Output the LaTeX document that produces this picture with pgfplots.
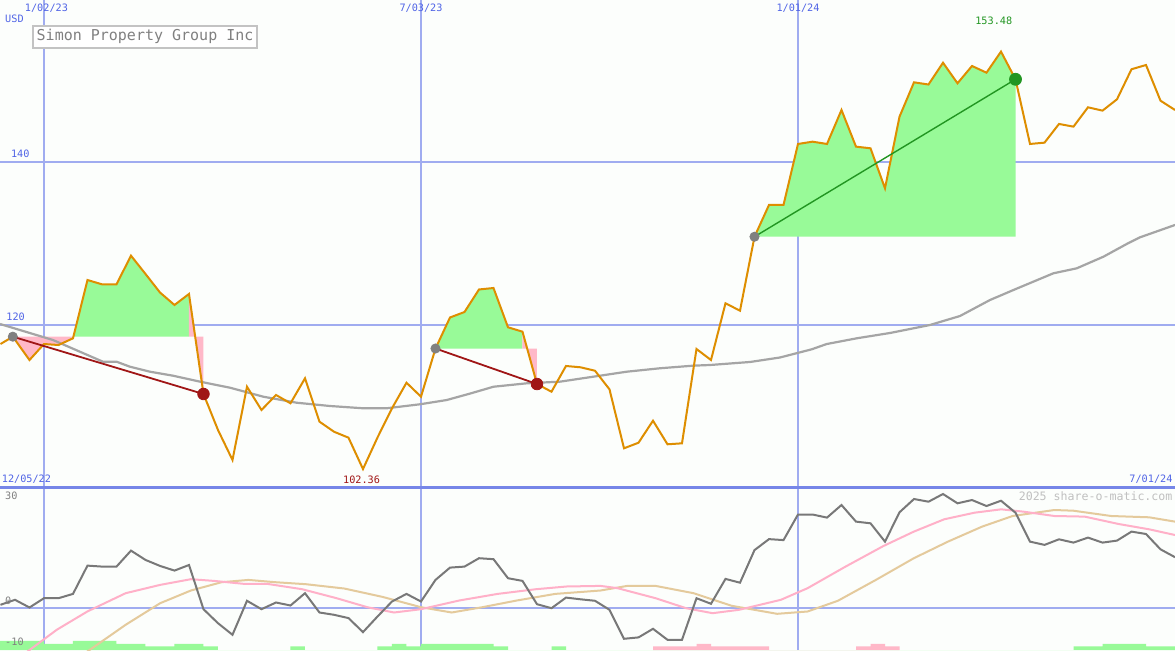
\documentclass[border=0pt]{standalone}
\usepackage{pgfplots}
\pgfplotsset{compat=1.18}
\usepackage{fontspec}
\setmainfont{DejaVu Sans Mono}
\definecolor{bgc}{RGB}{252,254,252}
\definecolor{gridblue}{RGB}{160,172,240}
\definecolor{sepblue}{RGB}{118,134,232}
\definecolor{lblblue}{RGB}{80,100,230}
\definecolor{priceor}{RGB}{222,142,0}
\definecolor{magray}{RGB}{165,165,165}
\definecolor{oscgray}{RGB}{120,120,120}
\definecolor{oscpink}{RGB}{255,176,200}
\definecolor{osctan}{RGB}{228,202,156}
\definecolor{fillgreen}{RGB}{152,250,152}
\definecolor{fillpink}{RGB}{255,184,200}
\definecolor{darkred}{RGB}{160,22,22}
\definecolor{tradegreen}{RGB}{34,150,34}
\definecolor{titlegray}{RGB}{128,128,128}
\definecolor{boxgray}{RGB}{195,195,195}
\definecolor{wmgray}{RGB}{192,192,192}
\tikzset{lbl/.style={font=\fontsize{5.1}{6}\selectfont, inner sep=0pt}}

\pgfplotstableread{
k v
-3 117.67
-2.15 118.57
-1 115.71
0 117.67
1 117.55
2 118.37
3 125.51
4 124.98
5 124.98
6 128.49
7 126.25
8 123.98
9 122.45
10 123.80
11 111.55
12 107.14
13 103.47
14 112.44
15 109.59
16 111.43
17 110.41
18 113.47
19 108.16
20 106.93
21 106.20
22 102.36
23 106.22
24 109.80
25 112.93
26 111.22
27 117.12
28 120.92
29 121.59
30 124.35
31 124.53
32 119.72
33 119.18
34 112.77
35 111.83
36 114.98
37 114.82
38 114.40
39 112.12
40 104.90
41 105.58
42 108.28
43 105.39
44 105.51
45 117.06
46 115.71
47 122.66
48 121.75
49 130.81
50 134.70
51 134.70
52 142.17
53 142.45
54 142.17
55 146.33
56 141.84
57 141.64
58 136.74
59 145.51
60 149.72
61 149.45
62 152.12
63 149.60
64 151.72
65 150.90
66 153.48
67 150.09
68 142.17
69 142.33
70 144.62
71 144.29
72 146.66
73 146.25
74 147.64
75 151.32
76 151.84
77 147.47
78 146.33
}\price

\pgfplotstableread{
k v
-3.03 120.12
0.62 118.16
4.07 115.50
5.01 115.50
5.93 114.89
7.31 114.28
8.90 113.79
10.76 113.06
12.83 112.32
15.12 111.22
17.43 110.48
19.72 110.08
22.02 109.80
23.63 109.80
25.93 110.29
27.77 110.81
29.38 111.60
31.00 112.44
33.30 112.86
35.59 113.06
37.89 113.67
40.19 114.28
42.48 114.70
44.78 115.02
45.93 115.10
48.69 115.47
50.76 116.02
52.94 117.02
53.98 117.67
56.05 118.37
58.34 119.02
61.10 120.00
63.17 121.10
65.24 123.06
66.97 124.37
69.61 126.33
71.22 126.94
73.06 128.36
74.67 129.92
75.59 130.74
78.00 132.25
}\mavg

\pgfplotstableread{
k v
-3 0.74
-2 2.12
-1 0
0 2.56
1 2.56
2 3.75
3 11.54
4 11.27
5 11.27
6 15.67
7 13.11
8 11.46
9 10.17
10 11.71
11 -0.47
12 -4.33
13 -7.52
14 1.85
15 -0.47
16 1.38
17 0.55
18 3.94
19 -1.38
20 -2.01
21 -2.92
22 -6.78
23 -2.48
24 1.65
25 3.75
26 1.65
27 7.60
28 10.99
29 11.27
30 13.58
31 13.31
32 8.07
33 7.33
34 0.91
35 -0.19
36 2.73
37 2.26
38 1.85
39 -0.63
40 -8.62
41 -8.24
42 -5.87
43 -8.90
44 -8.90
45 2.56
46 1.02
47 7.88
48 6.83
49 15.81
50 18.84
51 18.57
52 25.62
53 25.62
54 24.77
55 28.24
56 23.66
57 23.20
58 18.15
59 26.23
60 29.89
61 29.15
62 31.27
63 28.71
64 29.61
65 27.96
66 29.42
67 26.12
68 18.15
69 17.25
70 18.79
71 17.88
72 19.26
73 17.88
74 18.43
75 20.91
76 20.25
77 16.03
78 13.86
}\osc

\pgfplotstableread{
k v
-1.6 -13.5
0.88 -6.14
2.99 -1.10
5.63 3.94
8.01 6.23
10.13 7.80
11.72 7.33
13.83 6.50
15.42 6.50
17.80 5.04
20.18 2.56
22.30 0.08
24.14 -1.38
26.00 -0.47
28.64 1.93
31.29 3.75
33.93 5.04
36.05 5.79
38.38 5.95
39.56 5.32
42.18 2.56
44.28 -0.19
46.11 -1.57
47.94 -0.63
50.82 2.12
52.66 5.32
55.28 11.27
57.89 16.94
59.99 20.91
62.08 24.30
64.17 26.12
66.01 27.05
67.58 26.39
69.68 25.21
71.77 25.04
74.12 23.00
76.22 21.54
78.00 19.97
}\pinkma

\pgfplotstableread{
k v
2.5 -13.5
5.63 -4.77
8.01 1.18
10.13 4.68
12.25 6.97
14.10 7.60
15.95 6.97
18.06 6.42
20.71 5.23
23.35 2.92
26.00 0.08
28.12 -1.38
30.23 0.08
32.61 1.93
35.26 3.75
38.38 4.68
40.22 5.95
42.18 5.95
44.80 3.94
47.42 0.47
50.56 -1.74
52.66 -1.10
54.75 1.85
57.37 7.60
59.99 13.58
62.34 18.15
64.70 22.29
66.80 25.21
69.68 26.86
70.99 26.67
73.60 25.21
76.22 24.85
78.00 23.66
}\tanma

\begin{document}
\begin{tikzpicture}
\useasboundingbox (0pt,0pt) rectangle (587.5pt,325pt);
\fill[bgc] (0pt,0pt) rectangle (587.5pt,325pt);

% ---------------- lower panel ----------------
\begin{axis}[
  at={(0pt,0pt)}, anchor=south west,
  scale only axis, width=587.5pt, height=81.5pt,
  xmin=-3.034, xmax=78, ymin=-11.71, ymax=33.2,
  axis line style={draw=none},
  xtick={0,26,52}, ytick={0},
  xticklabels={}, yticklabels={},
  tick style={draw=none},
  xmajorgrids, ymajorgrids,
  x grid style={gridblue, line width=0.7pt},
  y grid style={gridblue, line width=1pt},
  clip=true,
]
% signal bars
\addplot[fill=fillgreen, draw=none] coordinates {
(-3.1,-11.71) (-3.1,-9.17) (0,-9.17) (0,-10.0) (2,-10.0) (2,-9.17) (5,-9.17) (5,-10.0) (7,-10.0)
(7,-10.72) (9,-10.72) (9,-10.0) (11,-10.0) (11,-10.72) (12,-10.72) (12,-11.71) (17,-11.71) (17,-10.72)
(18,-10.72) (18,-11.71) (23,-11.71) (23,-10.72) (24,-10.72) (24,-10.0) (25,-10.0) (25,-10.72)
(26,-10.72) (26,-10.0) (31,-10.0) (31,-10.72) (32,-10.72) (32,-11.71) (35,-11.71) (35,-10.72)
(36,-10.72) (36,-11.71) (71,-11.71) (71,-10.72) (73,-10.72) (73,-10.0) (76,-10.0) (76,-10.72)
(78.1,-10.72) (78.1,-11.71)} -- cycle;
\addplot[fill=fillpink, draw=none] coordinates {
(42,-11.71) (42,-10.72) (45,-10.72) (45,-10.0) (46,-10.0) (46,-10.72) (50,-10.72) (50,-11.71)
(56,-11.71) (56,-10.72) (57,-10.72) (57,-10.0) (58,-10.0) (58,-10.72) (59,-10.72) (59,-11.71)} -- cycle;

\addplot[osctan, line width=1pt] table[x=k,y=v] {\tanma};
\addplot[oscpink, line width=1pt] table[x=k,y=v] {\pinkma};
\addplot[oscgray, line width=1pt] table[x=k,y=v] {\osc};

\node[lbl, anchor=west, text=titlegray] at (axis cs:-2.70,30.8) {30};
\node[lbl, anchor=west, text=titlegray] at (axis cs:-2.70,1.95) {0};
\node[lbl, anchor=west, text=titlegray] at (axis cs:-2.70,-9.5) {-10};
\node[lbl, anchor=east, text=wmgray, font=\fontsize{5.8}{7}\selectfont] at (axis cs:77.85,30.8) {2025 share-o-matic.com};
\end{axis}

% ---------------- upper panel ----------------
\begin{axis}[
  at={(0pt,81.5pt)}, anchor=south west,
  scale only axis, width=587.5pt, height=243.5pt,
  xmin=-3.034, xmax=78, ymin=100.16, ymax=159.8,
  axis line style={draw=none},
  xtick={0,26,52}, ytick={120,140},
  xticklabels={}, yticklabels={},
  tick style={draw=none},
  xmajorgrids, ymajorgrids,
  x grid style={gridblue, line width=0.7pt},
  y grid style={gridblue, line width=1pt},
  clip=true,
]
% trade fills
\addplot[fill=fillpink, draw=none] coordinates {(-2.15,118.57) (-1,115.71) (0,117.67) (1,117.55) (2,118.37) (2.03,118.57)} -- cycle;
\addplot[fill=fillgreen, draw=none] coordinates {(2.03,118.57) (3,125.51) (4,124.98) (5,124.98) (6,128.49) (7,126.25) (8,123.98) (9,122.45) (10,123.80) (10,118.57)} -- cycle;
\addplot[fill=fillpink, draw=none] coordinates {(10,123.80) (11,111.55) (11,118.57) (10,118.57)} -- cycle;

\addplot[fill=fillgreen, draw=none] coordinates {(27,117.12) (28,120.92) (29,121.59) (30,124.35) (31,124.53) (32,119.72) (33,119.18) (33,117.12)} -- cycle;
\addplot[fill=fillpink, draw=none] coordinates {(33,119.18) (34,112.77) (34,117.12) (33,117.12)} -- cycle;

\addplot[fill=fillgreen, draw=none] coordinates {(49,130.81) (50,134.70) (51,134.70) (52,142.17) (53,142.45) (54,142.17) (55,146.33) (56,141.84) (57,141.64) (58,136.74) (59,145.51) (60,149.72) (61,149.45) (62,152.12) (63,149.60) (64,151.72) (65,150.90) (66,153.48) (67,150.09) (67,130.81)} -- cycle;

% moving average
\addplot[magray, line width=1.1pt] table[x=k,y=v] {\mavg};
% price
\addplot[priceor, line width=1pt] table[x=k,y=v] {\price};

% trade lines
\addplot[darkred, line width=0.9pt] coordinates {(-2.15,118.57) (11,111.55)};
\addplot[darkred, line width=0.9pt] coordinates {(27,117.12) (34,112.77)};
\addplot[tradegreen, line width=0.7pt] coordinates {(49,130.81) (67,150.09)};

% markers
\addplot[only marks, mark=*, mark size=2.3pt, color=titlegray] coordinates {(-2.15,118.57) (27,117.12) (49,130.81)};
\addplot[only marks, mark=*, mark size=2.9pt, color=darkred] coordinates {(11,111.55) (34,112.77)};
\addplot[only marks, mark=*, mark size=3pt, color=tradegreen] coordinates {(67,150.09)};

% labels
\node[lbl, anchor=north, text=lblblue] at (axis cs:0.17,159.4) {1/02/23};
\node[lbl, anchor=north, text=lblblue] at (axis cs:26,159.4) {7/03/23};
\node[lbl, anchor=north, text=lblblue] at (axis cs:52,159.4) {1/01/24};
\node[lbl, anchor=west, text=lblblue] at (axis cs:-2.70,157.54) {USD};
\node[lbl, anchor=south west, text=lblblue] at (axis cs:-2.30,140.45) {140};
\node[lbl, anchor=south west, text=lblblue] at (axis cs:-2.62,120.45) {120};
\node[lbl, anchor=south west, text=lblblue] at (axis cs:-2.93,100.5) {12/05/22};
\node[lbl, anchor=south east, text=lblblue] at (axis cs:77.85,100.5) {7/01/24};
\node[lbl, anchor=south, text=darkred] at (axis cs:21.9,100.5) {102.36};
\node[lbl, text=tradegreen] at (axis cs:65.5,157.23) {153.48};
\node[draw=boxgray, line width=1pt, fill=white, text=titlegray, inner sep=0pt,
      minimum width=112pt, minimum height=11pt,
      font=\fontsize{7.5}{9}\selectfont] at (axis cs:6.97,155.33) {Simon Property Group Inc};
\end{axis}

\draw[sepblue, line width=1.5pt] (0pt,81.5pt) -- (587.5pt,81.5pt);
\end{tikzpicture}
\end{document}
